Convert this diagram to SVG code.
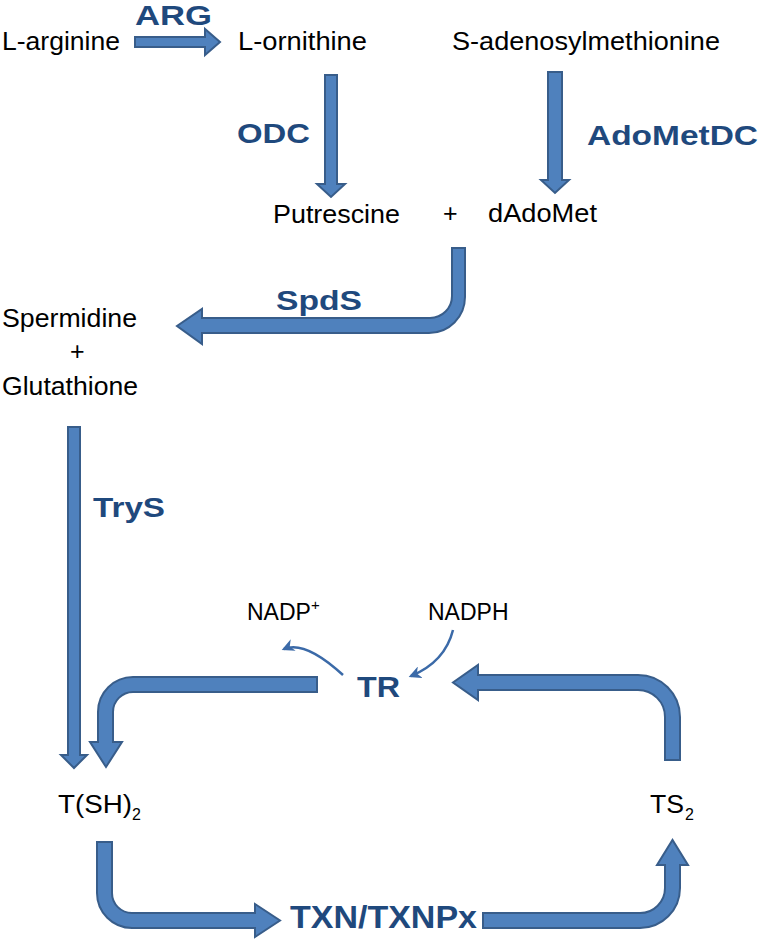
<svg xmlns="http://www.w3.org/2000/svg" width="760" height="939" viewBox="0 0 760 939">
<style>
.t{font-family:"Liberation Sans",Arial,sans-serif;font-size:25px;fill:#000}
.s{font-family:"Liberation Sans",Arial,sans-serif;font-size:16px;fill:#000}
.l{font-family:"Liberation Sans",Arial,sans-serif;font-size:28px;font-weight:bold;fill:#1F497D}
.a{fill:#4F81BD;stroke:#385D8A;stroke-width:2;stroke-linejoin:miter}
.c{fill:none;stroke:#3B6AA8;stroke-width:2.5}
</style>
<defs>
<marker id="h" viewBox="0 0 10 10" refX="8" refY="5" markerWidth="5" markerHeight="5" orient="auto" markerUnits="strokeWidth">
<path d="M0,0 L10,5 L0,10 L3,5 Z" fill="#3B6AA8"/>
</marker>
</defs>
<rect width="760" height="939" fill="#fff"/>
<g id="connectors">
<path class="a" d="M135,37 H205 V29 L220,42 L205,55 V47 H135 Z"/>
<path class="a" d="M325,75 H337 V184 H345 L331,197 L317,184 H325 Z"/>
<path class="a" d="M548,72 H562 V180 H569 L555,193 L541,180 H548 Z"/>
<path class="a" d="M452,248 H465 V297 A36,36 0 0 1 429,333 H202 V344 L177,326 L202,309 V318 H430 A22,22 0 0 0 452,296 Z"/>
<path class="a" d="M68,427 H80 V755 H87 L74,768 L61,755 H68 Z"/>
<path class="a" d="M317,677 V692 H133 A20,20 0 0 0 113,712 V742 H122 L106,767 L90,742 H98 V712 A35,35 0 0 1 133,677 Z"/>
<path class="a" d="M665,760 H680 V717 A42,42 0 0 0 638,675 H478 V665 L453,682.5 L478,700 V690 H638 A27,27 0 0 1 665,717 Z"/>
<path class="a" d="M97,842 H112 V893 A20,20 0 0 0 132,913 H255 V904 L280,920.5 L255,937 V928 H132 A35,35 0 0 1 97,893 Z"/>
<path class="a" d="M483,913 V928 H640 A40,40 0 0 0 680,888 V865 H688 L672.5,840 L657,865 H665 V888 A25,25 0 0 1 640,913 Z"/>
<path class="c" d="M343,675 Q305,640 284,649" marker-end="url(#h)"/>
<path class="c" d="M453,630 Q445,662 411,676" marker-end="url(#h)"/>
</g>
<g id="n-arginine"><text class="t" x="2" y="50" textLength="118" lengthAdjust="spacingAndGlyphs">L-arginine</text></g>
<g id="n-ornithine"><text class="t" x="238" y="50" textLength="129" lengthAdjust="spacingAndGlyphs">L-ornithine</text></g>
<g id="n-sam"><text class="t" x="452" y="50" textLength="268" lengthAdjust="spacingAndGlyphs">S-adenosylmethionine</text></g>
<g id="n-putrescine"><text class="t" x="273" y="223" textLength="127" lengthAdjust="spacingAndGlyphs">Putrescine</text></g>
<g id="n-plus1"><text class="t" x="443" y="222">+</text></g>
<g id="n-dadomet"><text class="t" x="488" y="222" textLength="109" lengthAdjust="spacingAndGlyphs">dAdoMet</text></g>
<g id="n-spermidine">
<text class="t" x="2" y="327" textLength="135" lengthAdjust="spacingAndGlyphs">Spermidine</text>
<text class="t" x="70" y="360">+</text>
<text class="t" x="2" y="395" textLength="136" lengthAdjust="spacingAndGlyphs">Glutathione</text>
</g>
<g id="n-tsh2"><text class="t" x="58" y="813" textLength="74" lengthAdjust="spacingAndGlyphs">T(SH)</text><text class="s" x="132" y="820">2</text></g>
<g id="n-ts2"><text class="t" x="650" y="813" textLength="34" lengthAdjust="spacingAndGlyphs">TS</text><text class="s" x="685" y="820">2</text></g>
<g id="n-nadp"><text class="t" x="247" y="620" style="font-size:23px">NADP<tspan style="font-size:15px" dy="-10">+</tspan></text></g>
<g id="n-nadph"><text class="t" x="428" y="620" style="font-size:23px">NADPH</text></g>
<g id="labels">
<text class="l" x="135" y="25" textLength="77" lengthAdjust="spacingAndGlyphs">ARG</text>
<text class="l" x="237" y="143" textLength="73" lengthAdjust="spacingAndGlyphs">ODC</text>
<text class="l" x="587" y="145" textLength="171" lengthAdjust="spacingAndGlyphs">AdoMetDC</text>
<text class="l" x="276" y="310" textLength="86" lengthAdjust="spacingAndGlyphs">SpdS</text>
<text class="l" x="93" y="517" textLength="72" lengthAdjust="spacingAndGlyphs">TryS</text>
<text class="l" x="357" y="697" style="font-size:30px" textLength="43" lengthAdjust="spacingAndGlyphs">TR</text>
<text class="l" x="290" y="928" style="font-size:31px" textLength="187" lengthAdjust="spacingAndGlyphs">TXN/TXNPx</text>
</g>
</svg>
